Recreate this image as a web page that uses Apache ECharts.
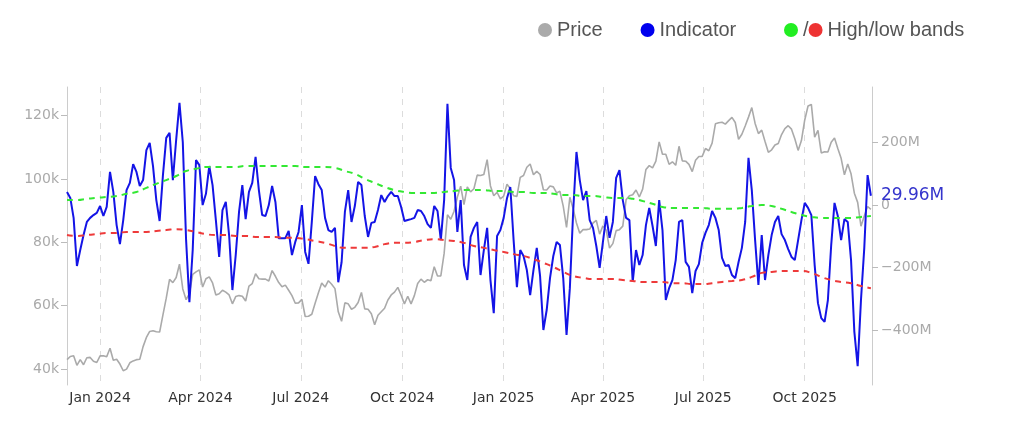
<!DOCTYPE html>
<html><head><meta charset="utf-8">
<script src="https://cdn.jsdelivr.net/npm/echarts@6/dist/echarts.min.js"></script>
<style>html,body{margin:0;padding:0;background:#fff}#c{width:1024px;height:430px}</style>
</head><body><div id="c"></div>
<script>
// sampling: every 3 days starting 2023-12-02
const startDay = '2023-12-02';
const stepDays = 3;
// BTC price (thousands USD), left axis
const price = [
43.0,44.0,44.2,41.2,43.0,41.4,43.6,43.7,42.5,42.1,
44.2,44.2,43.9,46.6,42.8,43.1,41.6,39.5,40.0,42.0,
42.6,43.0,43.1,47.1,50.0,51.9,52.1,51.8,51.7,57.1,
62.4,68.3,67.3,68.9,73.1,65.3,61.9,63.8,69.9,70.7,
71.3,65.9,68.5,69.1,67.2,63.4,63.8,64.9,64.3,63.4,
60.6,62.9,63.2,63.0,61.5,66.2,67.0,70.1,68.5,68.4,
68.4,67.8,71.1,69.3,67.3,66.0,66.5,64.9,63.2,60.8,
60.9,62.0,56.6,56.7,57.3,60.8,64.1,67.2,65.9,67.9,
66.8,65.4,58.1,55.1,60.9,60.6,58.9,59.5,61.0,64.2,
59.0,58.9,57.5,54.0,57.0,58.1,59.2,61.8,63.4,64.3,
65.8,63.3,60.6,63.0,60.6,63.2,67.0,68.4,67.4,68.2,
67.9,72.3,69.4,69.4,76.5,88.7,87.3,89.8,94.3,97.7,
91.9,97.5,95.9,96.9,101.2,101.1,101.4,106.1,97.8,94.7,
95.8,93.7,94.6,98.3,96.9,94.7,94.5,100.5,101.1,103.7,
104.7,101.3,102.4,101.4,96.6,96.5,97.8,97.5,95.6,96.1,
91.4,84.7,94.2,90.6,86.1,82.9,84.0,84.0,84.2,86.1,
86.9,82.6,85.2,83.8,78.2,79.6,83.7,84.0,85.1,93.4,
94.7,95.0,96.5,94.3,96.8,103.0,104.2,103.5,105.6,111.7,
107.8,107.8,104.6,105.4,104.3,110.3,105.7,105.6,104.6,102.3,
105.9,107.1,107.1,109.6,108.9,111.3,117.4,117.7,117.9,117.3,
118.4,119.4,117.8,112.5,114.1,116.7,119.5,122.5,117.5,114.3,
115.4,111.8,108.4,109.2,110.7,111.2,114.0,115.9,116.8,115.7,
112.7,109.0,112.1,118.6,123.0,123.5,113.2,115.3,108.2,108.6,
108.5,111.6,112.9,109.6,106.5,101.3,104.7,101.6,95.5,92.6,
85.1,88.3,91.3,90.4
];
// Indicator (millions), right axis
const indicator = [
42,23,-41,-195,-144,-96,-54,-41,-32,-25,
-3,-35,-6,106,42,-64,-125,-48,48,71,
131,106,61,80,176,199,125,16,-51,96,
215,231,80,209,327,202,-112,-311,-144,144,
128,0,36,125,64,-48,-166,-16,10,-96,
-272,-160,-22,64,-45,42,71,154,48,-32,
-35,0,61,10,-106,-106,-106,-83,-160,-118,
-86,0,-150,-188,-54,93,67,48,-41,-80,
-86,-73,-247,-183,-22,48,-54,-3,74,64,
-35,-102,-57,-54,-16,32,10,29,42,29,
29,-6,-51,-48,-45,-41,-16,-19,-35,-61,
-73,-3,-19,-112,16,324,119,80,-86,16,
-192,-240,-102,-73,-54,-224,-144,-73,-240,-346,
-99,-80,-41,22,58,-112,-263,-144,-163,-208,
-288,-208,-137,-227,-400,-336,-234,-163,-118,-128,
-234,-416,-266,-22,170,80,16,45,-48,-73,
-131,-201,-118,-35,-105,-54,87,112,16,-41,
-48,-246,-144,-192,-160,-64,-9,-67,-131,16,
-80,-304,-266,-240,-176,-54,-48,-182,-198,-282,
-211,-189,-121,-89,-64,-19,-41,-80,-169,-195,
-192,-224,-234,-182,-137,-54,151,48,-112,-256,
-96,-240,-160,-96,-54,-35,-93,-112,-141,-166,
-176,-112,-48,7,-9,-32,-192,-314,-362,-374,
-304,-128,7,-35,-112,-45,-54,-176,-406,-516,
-304,-137,96,29.96
];
// bands sampled every 9 days from the same start (millions)
const bandStepDays = 9;
const highBand = [
16,16,20,23,26,29,36,42,55,68,
80,93,109,116,122,122,122,122,125,125,
125,125,125,125,122,122,122,119,109,100,
84,71,58,48,42,39,39,39,42,45,
48,48,48,45,45,42,42,39,39,36,
32,32,29,29,26,23,23,20,13,4,
-6,-9,-9,-9,-9,-12,-12,-12,-9,-3,
0,-3,-12,-22,-32,-38,-41,-41,-41,-41,
-38,-35
];
const lowBand = [
-96,-99,-96,-93,-89,-89,-86,-86,-86,-83,
-80,-77,-80,-86,-93,-96,-96,-99,-99,-102,
-102,-102,-105,-105,-109,-115,-121,-131,-137,-137,
-137,-134,-125,-121,-121,-118,-112,-109,-112,-115,
-121,-131,-137,-144,-150,-157,-163,-173,-185,-198,
-214,-227,-233,-237,-237,-237,-240,-243,-246,-246,
-246,-250,-250,-253,-253,-250,-246,-243,-240,-230,
-217,-214,-211,-211,-211,-217,-230,-240,-246,-250,
-259,-266
];
const quarterTicks = ['2024-01-01','2024-04-01','2024-07-01','2024-10-01','2025-01-01','2025-04-01','2025-07-01','2025-10-01'];
const priceTicks = [40,60,80,100,120];
const indTicks = [-400,-200,0,200];
const xRange = ['2023-12-02','2025-12-01'];

const monthNames = ['Jan','Feb','Mar','Apr','May','Jun','Jul','Aug','Sep','Oct','Nov','Dec'];
function parseDay(s){ const p = s.split('-').map(Number); return new Date(p[0], p[1]-1, p[2]).getTime(); }
function dayAfter(s, n){ const p = s.split('-').map(Number); return new Date(p[0], p[1]-1, p[2] + n).getTime(); }

const priceData = price.map((v,i)=>[dayAfter(startDay, i*stepDays), v]);
const indData = indicator.map((v,i)=>[dayAfter(startDay, i*stepDays), v]);
const highData = highBand.map((v,i)=>[dayAfter(startDay, i*bandStepDays), v]);
const lowData = lowBand.map((v,i)=>[dayAfter(startDay, i*bandStepDays), v]);
const qTicks = quarterTicks.map(parseDay);

const chart = echarts.init(document.getElementById('c'), null, {renderer:'canvas'});
const legendText = {fontFamily:'Liberation Sans, Arial, sans-serif', fontSize:20, color:'#555'};
chart.setOption({
  animation:false,
  backgroundColor:'#fff',
  grid:{left:67, right:152, top:87, bottom:45},
  legend:[
    {data:['Price','Indicator'], left:533, top:15, icon:'circle', itemWidth:14, itemHeight:14, itemGap:38, selectedMode:false, textStyle:legendText},
    {data:['High band','Low band'], left:779, top:15, icon:'circle', itemWidth:14, itemHeight:14, itemGap:0, selectedMode:false, textStyle:legendText,
     formatter:function(n){ return n==='High band' ? '/' : 'High/low bands'; }}
  ],
  xAxis:{
    type:'value', min:parseDay(xRange[0]), max:parseDay(xRange[1]),
    axisLine:{show:false},
    axisTick:{show:false, customValues:qTicks},
    axisLabel:{customValues:qTicks, color:'#333', fontFamily:'DejaVu Sans', fontSize:14, margin:6,
      formatter:function(v){ const d=new Date(v); return monthNames[d.getMonth()]+' '+d.getFullYear(); }},
    splitLine:{show:true, lineStyle:{color:'#dcdcdc', type:[6,6], width:1}}
  },
  yAxis:[
    {type:'value', min:35, max:129, position:'left',
     axisLine:{show:true, lineStyle:{color:'#cccccc'}},
     axisTick:{show:true, length:6, customValues:priceTicks, lineStyle:{color:'#bbbbbb'}},
     axisLabel:{customValues:priceTicks, color:'#aaaaaa', fontFamily:'DejaVu Sans', fontSize:14, margin:8,
       formatter:function(v){ return v+'k'; }},
     splitLine:{show:false}},
    {type:'value', min:-576, max:378, position:'right',
     axisLine:{show:true, lineStyle:{color:'#cccccc'}},
     axisTick:{show:true, length:6, customValues:indTicks, lineStyle:{color:'#bbbbbb'}},
     axisLabel:{customValues:indTicks, color:'#aaaaaa', fontFamily:'DejaVu Sans', fontSize:14, margin:9,
       formatter:function(v){ return v===0 ? '0' : (v<0 ? '\u2212' : '') + Math.abs(v) + 'M'; }},
     splitLine:{show:false}}
  ],
  series:[
    {name:'Price', type:'line', yAxisIndex:0, data:priceData, showSymbol:false, color:'#aaaaaa',
     lineStyle:{color:'#aaaaaa', width:1.6}, z:2},
    {name:'Indicator', type:'line', yAxisIndex:1, data:indData, showSymbol:false, color:'#0000ee',
     lineStyle:{color:'#1414e6', width:2}, z:3,
     endLabel:{show:true, distance:10, color:'#3535cc', fontFamily:'DejaVu Sans', fontSize:17,
       formatter:function(p){ return p.value[1].toFixed(2)+'M'; }}},
    {name:'High band', type:'line', yAxisIndex:1, data:highData, showSymbol:false, smooth:true, color:'#22ee22',
     lineStyle:{color:'#33e833', width:2, type:[6,5]}, z:4},
    {name:'Low band', type:'line', yAxisIndex:1, data:lowData, showSymbol:false, smooth:true, color:'#ee3333',
     lineStyle:{color:'#ee3a3a', width:2, type:[6,5]}, z:4}
  ]
});
</script></body></html>
